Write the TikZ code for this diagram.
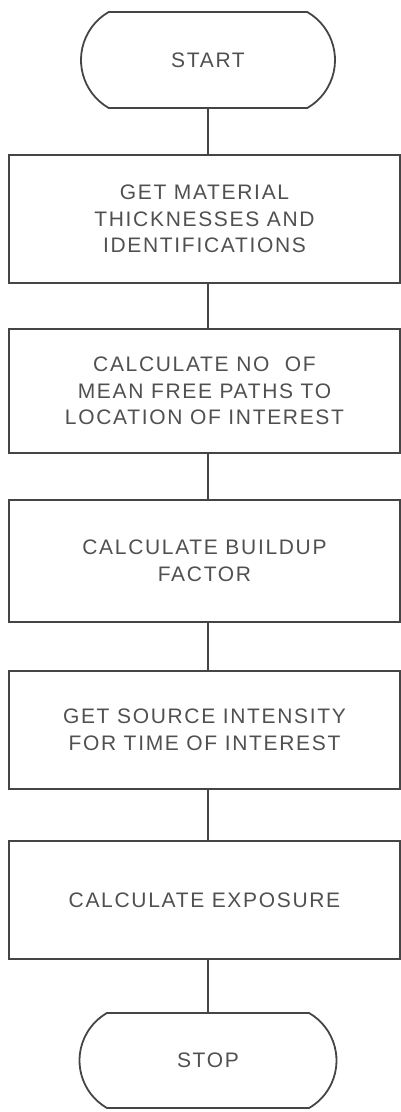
\documentclass[tikz,border=0pt]{standalone}
\usepackage{fontspec}
\newfontfamily\lettering[LetterSpace=8]{Liberation Sans}
\usetikzlibrary{shapes.misc}
\definecolor{ink}{HTML}{454545}
\definecolor{textink}{HTML}{505050}
\begin{document}
\begin{tikzpicture}[x=1pt,y=1pt,
  every node/.style={text=textink, font=\lettering\fontsize{21}{26.5}\selectfont, align=center, inner sep=0pt},
  procbox/.style={draw=ink, line width=1.8pt, rectangle, minimum width=391pt},
  terminal/.style={draw=ink, line width=1.8pt, rounded rectangle, rounded rectangle arc length=120},
  conn/.style={draw=ink, line width=1.8pt}]
\useasboundingbox (0,0) rectangle (401,-1112);

\node[terminal, minimum width=254pt, minimum height=96pt] (start) at (208,-60) {START};

\node[procbox, minimum height=128pt] (b1) at (204.5,-219) {GET MATERIAL\\THICKNESSES AND\\IDENTIFICATIONS};
\node[procbox, minimum height=124pt] (b2) at (204.5,-391) {CALCULATE NO\hspace{8pt} OF\\MEAN FREE PATHS TO\\LOCATION OF INTEREST};
\node[procbox, minimum height=122pt] (b3) at (204.5,-561) {CALCULATE BUILDUP\\FACTOR};
\node[procbox, minimum height=118pt] (b4) at (204.5,-730) {GET SOURCE INTENSITY\\FOR TIME OF INTEREST};
\node[procbox, minimum height=118pt] (b5) at (204.5,-900) {CALCULATE EXPOSURE};

\node[terminal, minimum width=257pt, minimum height=95pt] (stop) at (208,-1060.5) {STOP};

% vertical connectors between consecutive steps
\draw[conn] (start.south) -- (start.south |- b1.north);
\draw[conn] (b1.south -| start.south) -- (b2.north -| start.south);
\draw[conn] (b2.south -| start.south) -- (b3.north -| start.south);
\draw[conn] (b3.south -| start.south) -- (b4.north -| start.south);
\draw[conn] (b4.south -| start.south) -- (b5.north -| start.south);
\draw[conn] (b5.south -| stop.north) -- (stop.north);
\end{tikzpicture}
\end{document}
